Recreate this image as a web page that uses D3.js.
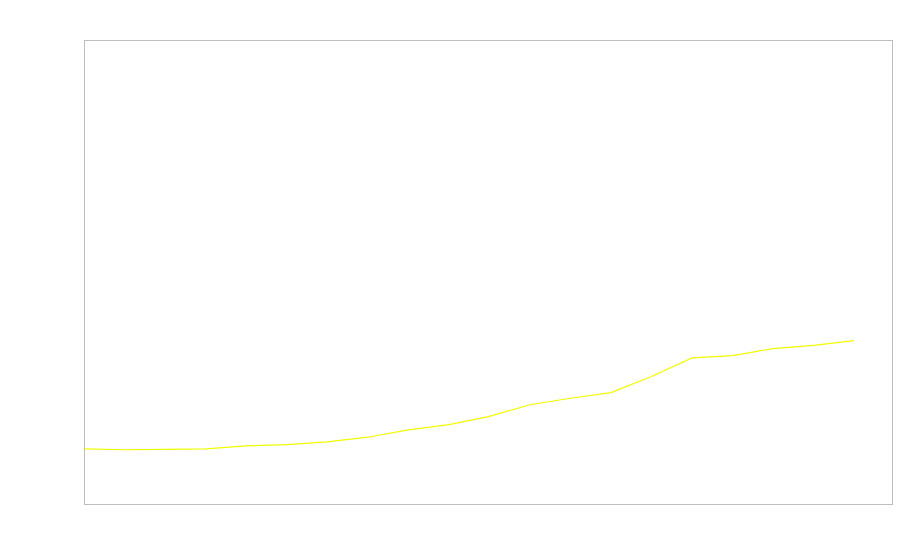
<!DOCTYPE html>
<html>
<head>
<meta charset="utf-8">
<script src="https://cdn.jsdelivr.net/npm/d3@7"></script>
<style>
    body { margin: 0; background: #fff; }
</style>
</head>
<body>
<svg width="900" height="560"></svg>
<script>
// values, one per step
var steps = [0, 1, 2, 3, 4, 5, 6, 7, 8, 9, 10, 11, 12, 13, 14, 15, 16, 17, 18, 19];
var values = [12.0, 11.8, 11.9, 12.0, 12.65, 12.9, 13.5, 14.5, 16.1, 17.2,
              19.0, 21.5, 22.9, 24.1, 27.6, 31.6, 32.1, 33.6, 34.3, 35.3];

var svg = d3.select("svg"),
    margin = {top: 40.5, right: 7.5, bottom: 55.5, left: 84.5},
    width = +svg.attr("width") - margin.left - margin.right,
    height = +svg.attr("height") - margin.top - margin.bottom;

var x = d3.scaleLinear().domain([0, 19.95]).range([0, width]),
    y = d3.scaleLinear().domain([0, 100]).range([height, 0]);

var g = svg.append("g")
    .attr("transform", "translate(" + margin.left + "," + margin.top + ")");

// plot frame
g.append("rect")
    .attr("width", width)
    .attr("height", height)
    .attr("fill", "none")
    .attr("stroke", "#bdbdbd")
    .attr("stroke-width", 1);

var line = d3.line()
    .x(function(d, i) { return x(steps[i]); })
    .y(function(d) { return y(d); });

g.append("path")
    .datum(values)
    .attr("fill", "none")
    .attr("stroke", "#f0ff00")
    .attr("stroke-width", 1.2)
    .attr("d", line);
</script>
</body>
</html>
